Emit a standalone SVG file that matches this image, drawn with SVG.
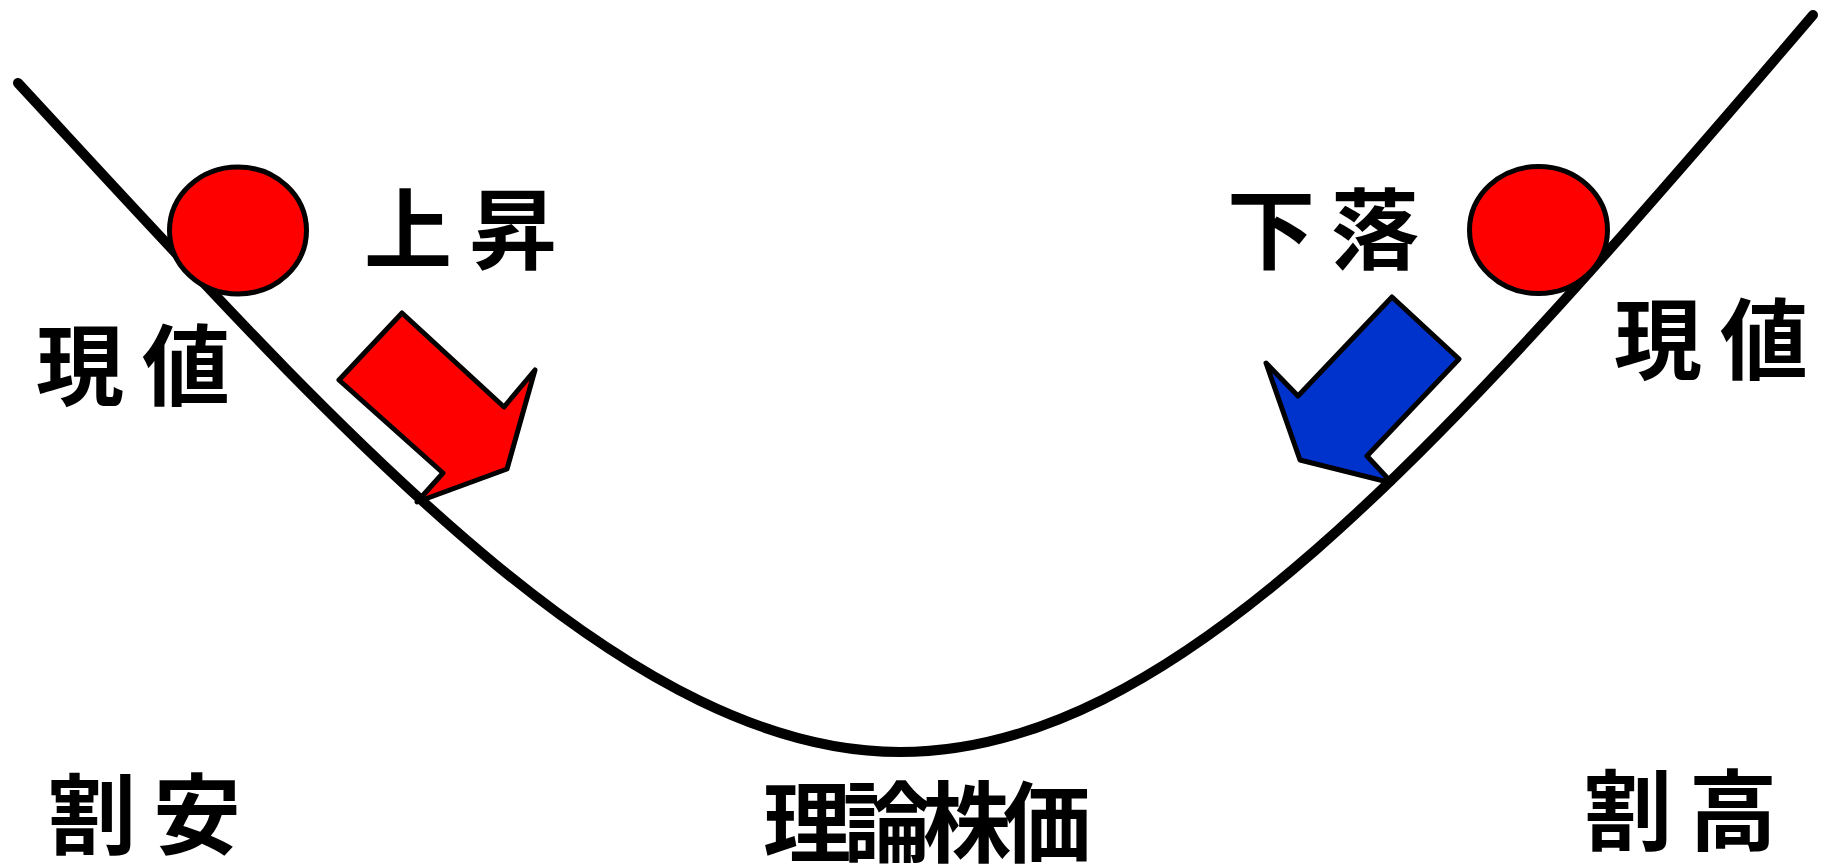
<svg xmlns="http://www.w3.org/2000/svg" width="1825" height="864" viewBox="0 0 1825 864">
<style>
.lbl{font-family:"Noto Sans CJK JP","Noto Sans CJK SC",sans-serif;font-weight:bold;font-size:88px;fill:#000}
.ball{fill:#FF0000;stroke:#000;stroke-width:5}
.arrow{stroke:#000;stroke-width:5;stroke-linejoin:round}
.curve{fill:none;stroke:#000;stroke-width:10;stroke-linecap:round;stroke-linejoin:round}
</style>
<rect width="1825" height="864" fill="#fff"/>
<g id="connectors">
<path class="curve" d="M18,83 C330,420 620,752 900,752 C1170,752 1433,460 1813,15"/>
</g>
<g id="ball-left"><ellipse class="ball" cx="238" cy="230.5" rx="68.5" ry="63.5"/></g>
<g id="ball-right"><ellipse class="ball" cx="1538.5" cy="230" rx="69" ry="63.5"/></g>
<g id="arrow-up"><polygon class="arrow" fill="#FF0000" points="402,313 504,407 535,370 507,469 417,502 443,473 339,380"/></g>
<g id="arrow-down"><polygon class="arrow" fill="#0033CC" points="1392,297 1459,359 1367,456 1392,483 1300,460 1266,363 1298,396"/></g>
<g id="label-rise"><text class="lbl" x="364" y="262">上 <tspan x="469">昇</tspan></text></g>
<g id="label-fall"><text class="lbl" x="1227" y="262">下 <tspan x="1331">落</tspan></text></g>
<g id="label-current-left"><text class="lbl" x="36" y="398">現 <tspan x="142">値</tspan></text></g>
<g id="label-current-right"><text class="lbl" x="1614" y="372">現 <tspan x="1720">値</tspan></text></g>
<g id="label-cheap"><text class="lbl" x="48" y="847">割 <tspan x="153">安</tspan></text></g>
<g id="label-theory"><text class="lbl" x="763" y="855" letter-spacing="-8">理論株価</text></g>
<g id="label-expensive"><text class="lbl" x="1584" y="843">割 <tspan x="1689">高</tspan></text></g>
</svg>
